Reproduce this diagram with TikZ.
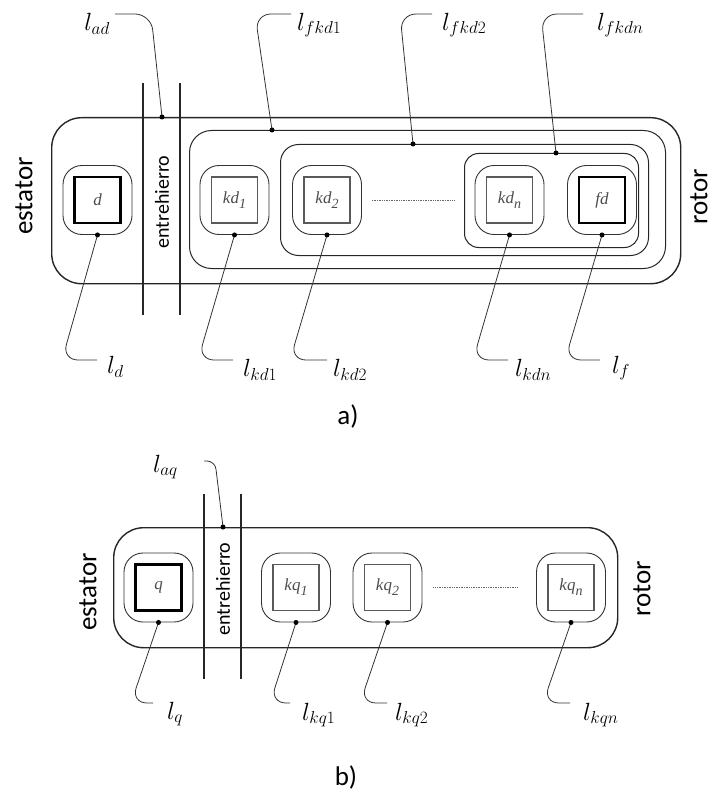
\documentclass[tikz,border=0pt]{standalone}
\usepackage{fontspec}
\setsansfont{Carlito}
\newfontfamily\coilfont{Liberation Serif}
\usetikzlibrary{positioning}

\newcommand{\lowsub}[1]{\raisebox{-5pt}{\fontsize{14}{16}\selectfont #1}}

\tikzset{
  loopbox/.style={draw=black!85, line width=1pt, rounded corners=#1, anchor=north west, inner sep=0pt},
  coil/.style={draw=black!80, line width=0.9pt, rounded corners=19pt, minimum size=69pt, inner sep=0pt},
  core/.style={draw=black!65, line width=1.1pt, minimum size=46pt, inner sep=0pt,
    font=\coilfont\itshape\fontsize{17}{19}\selectfont, text=black!70},
  thickcore/.style={core, draw=black, line width=2.8pt},
  gapline/.style={draw=black!85, line width=1.3pt},
  leader/.style={draw=black!80, line width=0.8pt, rounded corners=16pt},
  lbl/.style={font=\fontsize{25}{29}\selectfont, inner sep=0pt},
  side/.style={font=\sffamily\fontsize{27}{30}\selectfont, rotate=90, inner sep=0pt},
  airgap/.style={font=\sffamily\fontsize{20}{22}\selectfont, rotate=90, inner sep=0pt},
  fewdots/.style={draw=black!60, line width=0.7pt, densely dotted},
}

\begin{document}
\begin{tikzpicture}[x=1pt, y=-1pt]
  \useasboundingbox (0,0) rectangle (716,794);

  % ---------- a) eje d ----------
  % Nested flux loops
  \node[loopbox=30pt, line width=1.4pt, minimum width=629pt, minimum height=166pt] (ad) at (51,117) {};
  \node[loopbox=22pt, minimum width=476pt, minimum height=138pt] (fkd1) at (189,130) {};
  \node[loopbox=18pt, minimum width=368pt, minimum height=111pt] (fkd2) at (280,144) {};
  \node[loopbox=14pt, minimum width=174pt, minimum height=94pt] (fkdn) at (464,153) {};

  % Air gap
  \draw[gapline] (143,83) -- (143,315);
  \draw[gapline] (180,83) -- (180,315);
  \node[airgap] (gapa) at (162,202) {entrehierro};
  \node[side] (esta) at (24,196) {estator};
  \node[side] (rota) at (699,197) {rotor};

  % Windings
  \node[coil] (d) at (97.5,200) {};
  \node[thickcore] (dc) at (d) {d};
  \node[coil] (kd1) at (234.5,200) {};
  \node[core] (kd1c) at (kd1) {kd\lowsub{1}};
  \node[coil] (kd2) at (327,200) {};
  \node[core] (kd2c) at (kd2) {kd\lowsub{2}};
  \node[coil] (kdn) at (509.5,200) {};
  \node[core] (kdnc) at (kdn) {kd\lowsub{n}};
  \node[coil] (fd) at (602,200) {};
  \node[thickcore] (fdc) at (fd) {fd};
  \draw[fewdots] ([xshift=10pt]kd2.east) -- ([xshift=-20pt]kdn.west);

  % Upper leaders
  \coordinate (pad) at (162,117);
  \coordinate (ead) at (115,14);
  \draw[leader] (pad) -- (151,14) -- (ead);
  \node[lbl, left=5pt of ead, yshift=-10pt] (Lad) {$l_{ad}$};

  \coordinate (pfkd1) at (272,130);
  \coordinate (efkd1) at (291,14);
  \draw[leader] (pfkd1) -- (255,14) -- (efkd1);
  \node[lbl, right=6pt of efkd1, yshift=-11pt] (Lfkd1) {$l_{fkd1}$};

  \coordinate (pfkd2) at (413,144);
  \coordinate (efkd2) at (432,14);
  \draw[leader] (pfkd2) -- (400,14) -- (efkd2);
  \node[lbl, right=10pt of efkd2, yshift=-11pt] (Lfkd2) {$l_{fkd2}$};

  \coordinate (pfkdn) at (556,153);
  \coordinate (efkdn) at (583,14);
  \draw[leader] (pfkdn) -- (541,14) -- (efkdn);
  \node[lbl, right=14pt of efkdn, yshift=-11pt] (Lfkdn) {$l_{fkdn}$};

  % Lower leaders
  \coordinate (ed) at (97,360);
  \draw[leader] (d.south) -- (62,360) -- (ed);
  \node[lbl, right=10pt of ed, yshift=-7pt] (Ld) {$l_{d}$};

  \coordinate (ekd1) at (233,360);
  \draw[leader] (kd1.south) -- (198,360) -- (ekd1);
  \node[lbl, right=10pt of ekd1, yshift=-10pt] (Lkd1) {$l_{kd1}$};

  \coordinate (ekd2) at (327,360);
  \draw[leader] (kd2.south) -- (290,360) -- (ekd2);
  \node[lbl, right=6pt of ekd2, yshift=-10pt] (Lkd2) {$l_{kd2}$};

  \coordinate (ekdn) at (508,360);
  \draw[leader] (kdn.south) -- (473,360) -- (ekdn);
  \node[lbl, right=7pt of ekdn, yshift=-10pt] (Lkdn) {$l_{kdn}$};

  \coordinate (ef) at (600,360);
  \draw[leader] (fd.south) -- (565,360) -- (ef);
  \node[lbl, right=12pt of ef, yshift=-8pt] (Lf) {$l_{f}$};

  \foreach \p in {pad,pfkd1,pfkd2,pfkdn,d.south,kd1.south,kd2.south,kdn.south,fd.south}
    \fill (\p) circle (2.5pt);

  \node[side, rotate=-90] (capa) at (348,416) {a)};

  % ---------- b) eje q ----------
  \node[loopbox=30pt, line width=1.4pt, minimum width=504pt, minimum height=120pt] (aq) at (113,527) {};

  % Air gap
  \draw[gapline] (204,494) -- (204,679);
  \draw[gapline] (241,494) -- (241,679);
  \node[airgap] (gapb) at (223,589) {entrehierro};
  \node[side] (estb) at (88,592) {estator};
  \node[side] (rotb) at (642,589) {rotor};

  % Windings
  \node[coil] (q) at (158.5,587.5) {};
  \node[thickcore] (qc) at (q) {q};
  \node[coil] (kq1) at (296,587.5) {};
  \node[core] (kq1c) at (kq1) {kq\lowsub{1}};
  \node[coil] (kq2) at (387.5,587.5) {};
  \node[core] (kq2c) at (kq2) {kq\lowsub{2}};
  \node[coil] (kqn) at (571,587.5) {};
  \node[core] (kqnc) at (kqn) {kq\lowsub{n}};
  \draw[fewdots] ([xshift=11pt]kq2.east) -- ([xshift=-19pt]kqn.west);

  % Leaders
  \coordinate (paq) at (223,527);
  \coordinate (eaq) at (204,461);
  \draw[leader, rounded corners=8pt] (paq) -- (215,461) -- (eaq);
  \node[lbl, left=26pt of eaq, yshift=-6pt] (Laq) {$l_{aq}$};

  \coordinate (eq) at (153,703);
  \draw[leader] (q.south) -- (131,703) -- (eq);
  \node[lbl, right=14pt of eq, yshift=-11pt] (Lq) {$l_{q}$};

  \coordinate (ekq1) at (290,703);
  \draw[leader] (kq1.south) -- (270,703) -- (ekq1);
  \node[lbl, right=12pt of ekq1, yshift=-12pt] (Lkq1) {$l_{kq1}$};

  \coordinate (ekq2) at (387,703);
  \draw[leader] (kq2.south) -- (360,703) -- (ekq2);
  \node[lbl, right=8pt of ekq2, yshift=-12pt] (Lkq2) {$l_{kq2}$};

  \coordinate (ekqn) at (570,703);
  \draw[leader] (kqn.south) -- (543,703) -- (ekqn);
  \node[lbl, right=13pt of ekqn, yshift=-12pt] (Lkqn) {$l_{kqn}$};

  \foreach \p in {paq,q.south,kq1.south,kq2.south,kqn.south}
    \fill (\p) circle (2.5pt);

  \node[side, rotate=-90] (capb) at (346,777) {b)};
\end{tikzpicture}
\end{document}
